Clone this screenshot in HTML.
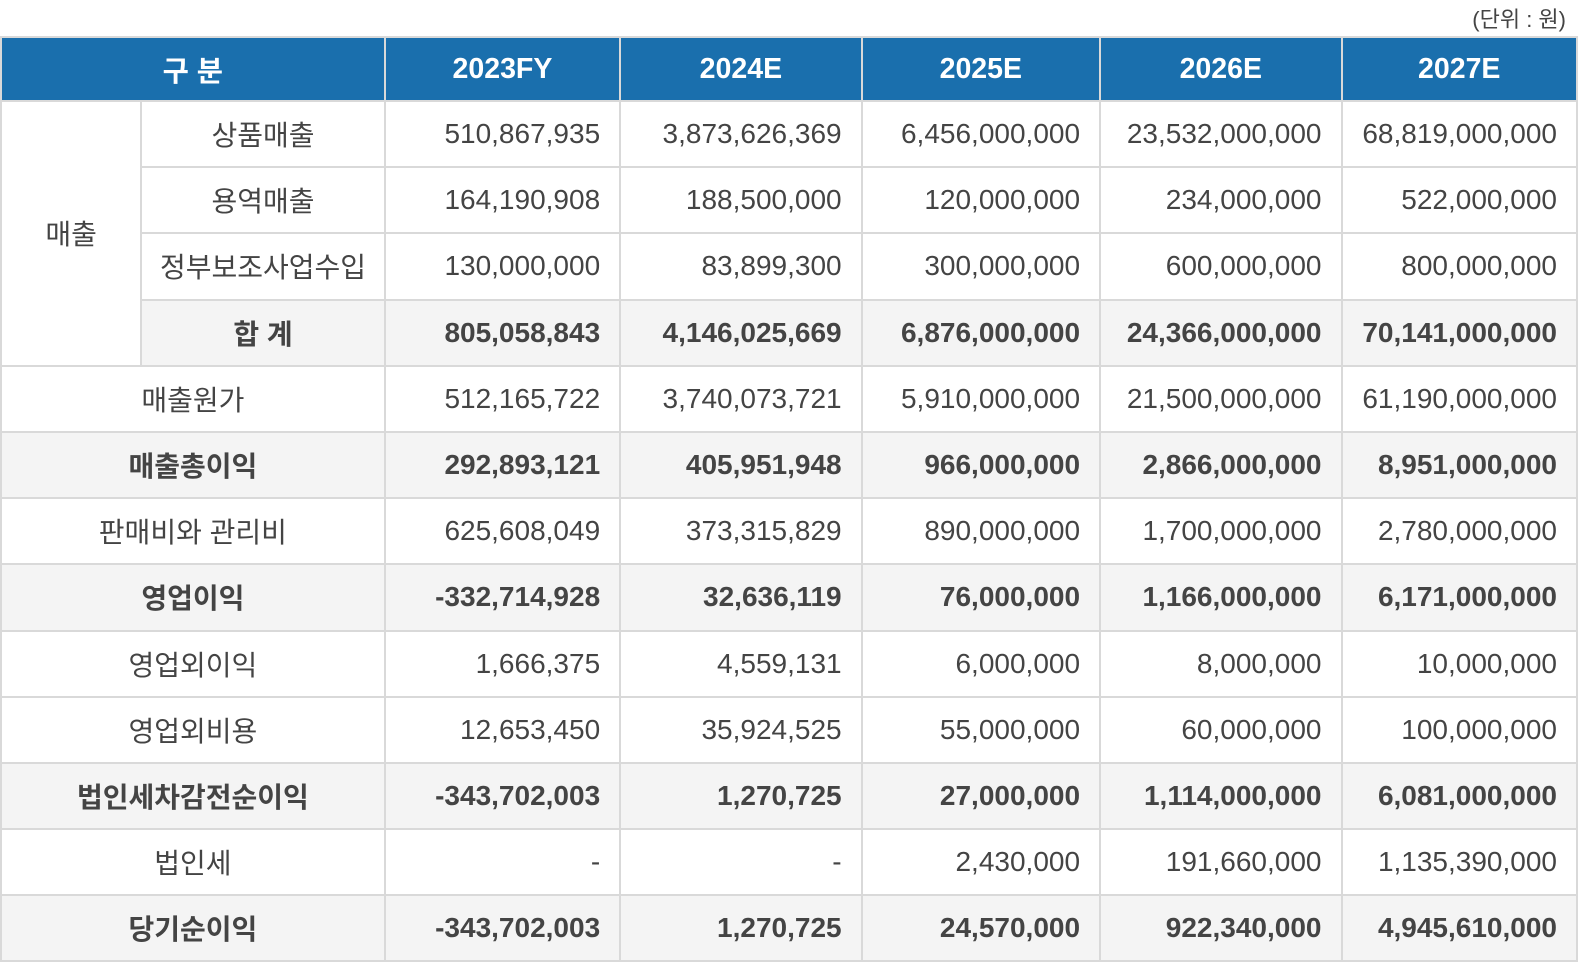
<!DOCTYPE html>
<html><head><meta charset="utf-8"><style>
body{margin:0;background:#fff;width:1580px;height:962px;overflow:hidden;font-family:"Liberation Sans","Noto Sans CJK KR",sans-serif;color:#444}
.unit{position:absolute;right:14px;top:2px;font-size:22px;color:#444}
table{position:absolute;left:0;top:36px;border-collapse:collapse;table-layout:fixed;width:1578px}
td,th{border:2px solid #d9d9d9;font-size:28px;padding:0;white-space:nowrap}
th{background:#1a6fad;color:#fff;font-weight:bold;height:62px;text-align:center;font-size:28.5px}
td{height:64.2px;text-align:center}
td.n{text-align:right;padding-right:19px}
tr.b td{background:#f4f4f4;font-weight:bold}
</style></head><body>
<div class="unit">(단위 : 원)</div>
<table>
<colgroup><col style="width:140px"><col style="width:243px"><col style="width:235px"><col style="width:241px"><col style="width:238px"><col style="width:241px"><col style="width:235px"></colgroup>
<tr><th colspan="2">구 분</th><th>2023FY</th><th>2024E</th><th>2025E</th><th>2026E</th><th>2027E</th></tr>
<tr><td rowspan="4" style="background:#fff;font-weight:normal">매출</td><td>상품매출</td><td class="n">510,867,935</td><td class="n">3,873,626,369</td><td class="n">6,456,000,000</td><td class="n">23,532,000,000</td><td class="n">68,819,000,000</td></tr>
<tr><td>용역매출</td><td class="n">164,190,908</td><td class="n">188,500,000</td><td class="n">120,000,000</td><td class="n">234,000,000</td><td class="n">522,000,000</td></tr>
<tr><td>정부보조사업수입</td><td class="n">130,000,000</td><td class="n">83,899,300</td><td class="n">300,000,000</td><td class="n">600,000,000</td><td class="n">800,000,000</td></tr>
<tr class="b"><td>합 계</td><td class="n">805,058,843</td><td class="n">4,146,025,669</td><td class="n">6,876,000,000</td><td class="n">24,366,000,000</td><td class="n">70,141,000,000</td></tr>
<tr><td colspan="2">매출원가</td><td class="n">512,165,722</td><td class="n">3,740,073,721</td><td class="n">5,910,000,000</td><td class="n">21,500,000,000</td><td class="n">61,190,000,000</td></tr>
<tr class="b"><td colspan="2">매출총이익</td><td class="n">292,893,121</td><td class="n">405,951,948</td><td class="n">966,000,000</td><td class="n">2,866,000,000</td><td class="n">8,951,000,000</td></tr>
<tr><td colspan="2">판매비와 관리비</td><td class="n">625,608,049</td><td class="n">373,315,829</td><td class="n">890,000,000</td><td class="n">1,700,000,000</td><td class="n">2,780,000,000</td></tr>
<tr class="b"><td colspan="2">영업이익</td><td class="n">-332,714,928</td><td class="n">32,636,119</td><td class="n">76,000,000</td><td class="n">1,166,000,000</td><td class="n">6,171,000,000</td></tr>
<tr><td colspan="2">영업외이익</td><td class="n">1,666,375</td><td class="n">4,559,131</td><td class="n">6,000,000</td><td class="n">8,000,000</td><td class="n">10,000,000</td></tr>
<tr><td colspan="2">영업외비용</td><td class="n">12,653,450</td><td class="n">35,924,525</td><td class="n">55,000,000</td><td class="n">60,000,000</td><td class="n">100,000,000</td></tr>
<tr class="b"><td colspan="2">법인세차감전순이익</td><td class="n">-343,702,003</td><td class="n">1,270,725</td><td class="n">27,000,000</td><td class="n">1,114,000,000</td><td class="n">6,081,000,000</td></tr>
<tr><td colspan="2">법인세</td><td class="n">-</td><td class="n">-</td><td class="n">2,430,000</td><td class="n">191,660,000</td><td class="n">1,135,390,000</td></tr>
<tr class="b"><td colspan="2">당기순이익</td><td class="n">-343,702,003</td><td class="n">1,270,725</td><td class="n">24,570,000</td><td class="n">922,340,000</td><td class="n">4,945,610,000</td></tr>
</table>
</body></html>
